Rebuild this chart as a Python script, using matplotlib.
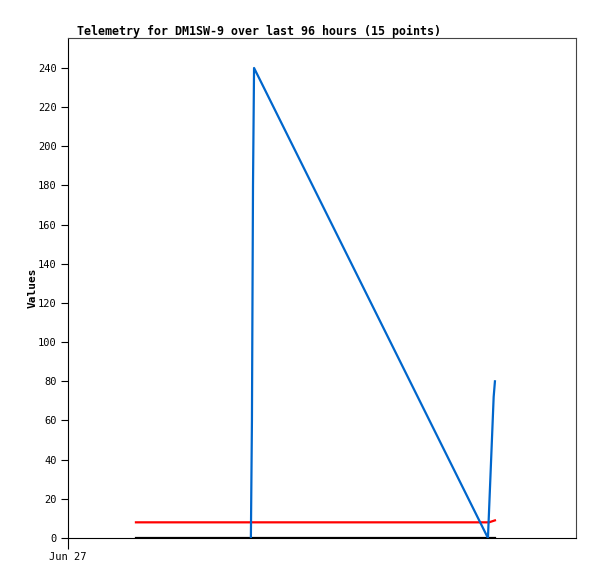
import matplotlib
matplotlib.use("Agg")
import matplotlib.pyplot as plt

# hours since Jun 27 00:00
blue_t = [8.64, 8.69, 8.74, 8.79, 19.84, 19.93, 19.99, 20.05, 20.11, 20.17]
blue_v = [0, 60, 180, 240, 0, 24, 40, 56, 72, 80]
red_t = [3.21, 19.89, 20.17]
red_v = [8, 8, 9]
black_t = [3.21, 20.17]
black_v = [0, 0]

title = "Telemetry for DM1SW-9 over last 96 hours (15 points)"
yticks = list(range(0, 241, 20))

plt.rcParams['font.family'] = 'DejaVu Sans Mono'

fig = plt.figure(figsize=(5.97, 5.79), dpi=100)
ax = fig.add_axes([68/597, 41/579, 508/597, 500/579])

ax.plot(black_t, black_v, color='black', linewidth=1.6)
ax.plot(red_t, red_v, color='#ff0000', linewidth=1.6)
ax.plot(blue_t, blue_v, color='#0066cc', linewidth=1.6)

ax.set_xlim(0, 24)
ax.set_ylim(0, 255.3)
ax.set_yticks(yticks)
ax.set_xticks([0])
ax.set_xticklabels(['Jun 27'])
ax.tick_params(axis='y', direction='out', length=5, labelsize=7.5, pad=3)
ax.tick_params(axis='x', direction='out', length=8, labelsize=7.5, pad=2)

for s in ['top', 'right']:
    ax.spines[s].set_color('#444444')
for s in ['left', 'bottom']:
    ax.spines[s].set_color('black')

ax.set_ylabel('Values', fontsize=8, fontweight='bold', labelpad=0)
fig.text(77/597, 1 - 31/579, title, fontsize=8.4, fontweight='bold', ha='left', va='center')

fig.savefig('out.png', dpi=100)
